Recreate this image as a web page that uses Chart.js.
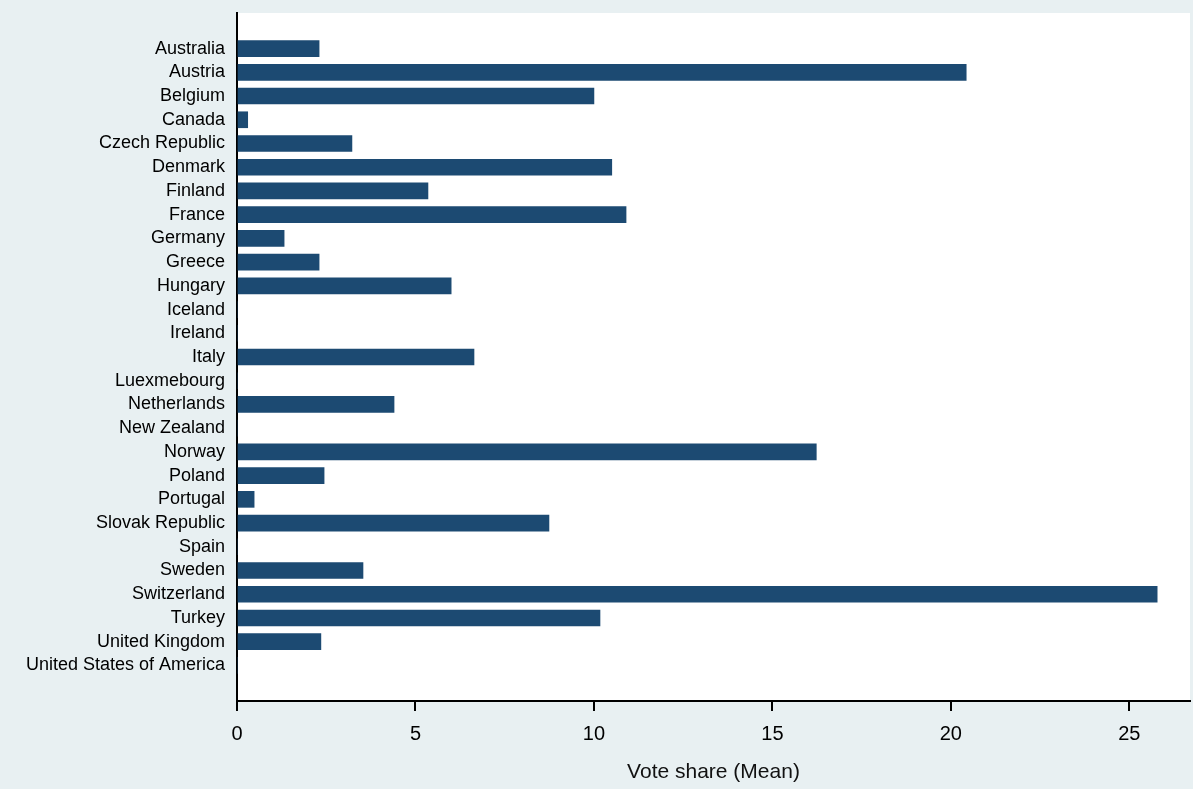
<!DOCTYPE html>
<html><head><meta charset="utf-8">
<script src="https://cdn.jsdelivr.net/npm/chart.js@4"></script>
<style>body{margin:0;background:#e8f0f2}</style>
</head><body>
<canvas id="myChart" width="1193" height="789"></canvas>
<script>
const countries = ['', 'Australia', 'Austria', 'Belgium', 'Canada', 'Czech Republic', 'Denmark', 'Finland', 'France', 'Germany', 'Greece', 'Hungary', 'Iceland', 'Ireland', 'Italy', 'Luexmebourg', 'Netherlands', 'New Zealand', 'Norway', 'Poland', 'Portugal', 'Slovak Republic', 'Spain', 'Sweden', 'Switzerland', 'Turkey', 'United Kingdom', 'United States of America', ''];
const voteShare = [null, 2.3, 20.43, 10.0, 0.3, 3.22, 10.5, 5.35, 10.9, 1.32, 2.3, 6.0, 0, 0, 6.64, 0, 4.4, 0, 16.23, 2.44, 0.48, 8.74, 0, 3.53, 25.78, 10.17, 2.35, 0, null];
const xTicks = [0, 5, 10, 15, 20, 25];

const bg = {
  id: 'bg',
  beforeDraw(chart) {
    const c = chart.ctx, a = chart.chartArea;
    c.save();
    c.fillStyle = '#e8f0f2';
    c.fillRect(0, 0, chart.width, chart.height);
    c.fillStyle = '#ffffff';
    c.fillRect(a.left, a.top, a.right - a.left, a.bottom - a.top);
    c.restore();
  }
};

const ctx = document.getElementById('myChart').getContext('2d');
new Chart(ctx, {
  type: 'bar',
  data: {
    labels: countries,
    datasets: [{ data: voteShare, backgroundColor: '#1c4a72', barThickness: 16 }]
  },
  options: {
    indexAxis: 'y',
    responsive: false,
    animation: false,
    layout: { padding: { top: 13, right: 3, left: 0, bottom: 0 } },
    plugins: { legend: { display: false }, tooltip: { enabled: false } },
    scales: {
      y: {
        grid: { display: false, drawTicks: false },
        border: { color: '#000', width: 2 },
        ticks: { color: '#000', font: { family: 'Liberation Sans', size: 18 }, padding: 12, autoSkip: false },
        afterFit(s) { s.width = 237; s.paddingTop = 0; s.paddingBottom = 0; }
      },
      x: {
        min: 0, max: 26.7,
        afterBuildTicks(s) { s.ticks = xTicks.map(v => ({ value: v })); },
        grid: { display: true, drawOnChartArea: false, drawTicks: true, tickLength: 10, lineWidth: 2, color: '#000' },
        border: { color: '#000', width: 2 },
        ticks: { color: '#000', font: { family: 'Liberation Sans', size: 20 }, padding: 11 },
        title: { display: true, text: 'Vote share (Mean)', color: '#111', font: { family: 'Liberation Sans', size: 21 }, padding: { top: 12 } },
        afterFit(s) { s.height = 88; s.paddingLeft = 0; s.paddingRight = 0; }
      }
    }
  },
  plugins: [bg]
});
</script>
</body></html>
